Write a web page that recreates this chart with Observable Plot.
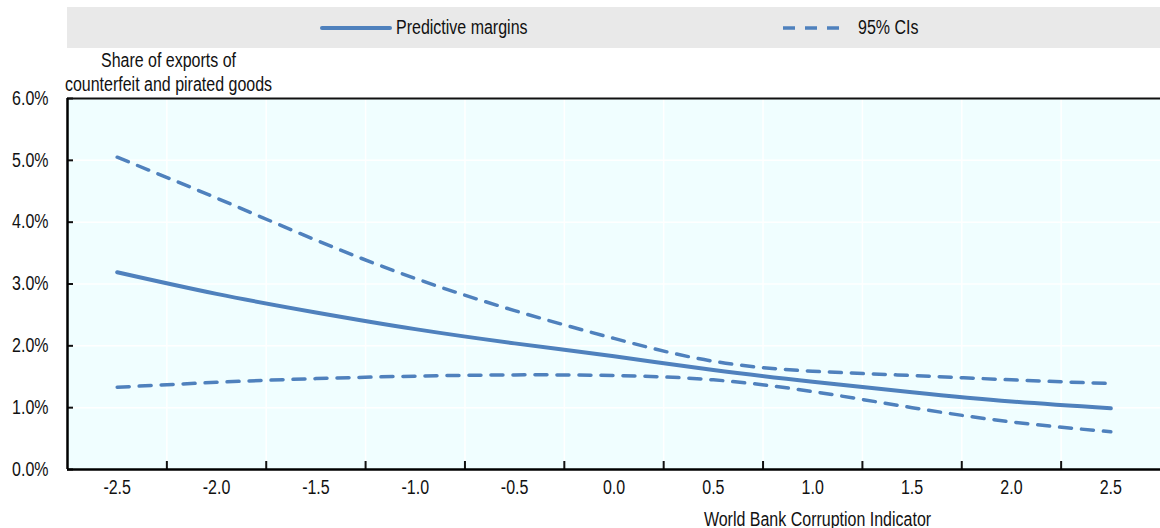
<!DOCTYPE html>
<html>
<head>
<meta charset="utf-8">
<script src="https://cdn.jsdelivr.net/npm/d3@7"></script>
<script src="https://cdn.jsdelivr.net/npm/@observablehq/plot@0.6"></script>
<style>
  body { margin: 0; background: #fff; font-family: "Liberation Sans", Arial, sans-serif; color: #000; }
  #legend { position: relative; margin: 7px 0 0 67px; width: 1093px; height: 41px; background: #e9e9e9; }
  .sw { position: absolute; top: 14px; }
  .lt { position: absolute; top: 0; line-height: 41px; font-size: 19.5px; white-space: nowrap; transform: scaleX(0.82); transform-origin: 0 50%; color: #111; }
  #chart svg { display: block; }
</style>
</head>
<body>
<div id="legend"></div>
<div id="chart"></div>
<script>
// ---- data ----
const xValues  = [-2.5, -2.0, -1.5, -1.0, -0.5, 0.0, 0.5, 1.0, 1.5, 2.0, 2.5];
const margins  = [3.19, 2.84, 2.54, 2.27, 2.04, 1.83, 1.61, 1.42, 1.25, 1.10, 0.99];
const ciUpper  = [5.05, 4.39, 3.71, 3.09, 2.57, 2.12, 1.75, 1.59, 1.52, 1.45, 1.39];
const ciLower  = [1.33, 1.41, 1.47, 1.51, 1.53, 1.52, 1.45, 1.26, 1.00, 0.77, 0.61];
const xTicks   = [-2.5, -2.0, -1.5, -1.0, -0.5, 0.0, 0.5, 1.0, 1.5, 2.0, 2.5];
const xBounds  = [-2.25, -1.75, -1.25, -0.75, -0.25, 0.25, 0.75, 1.25, 1.75, 2.25];
const yTicks   = [0, 1, 2, 3, 4, 5, 6];
const seriesNames = ["Predictive margins", "95% CIs"];
const yTitle = "Share of exports of\ncounterfeit and pirated goods";
const xTitle = "World Bank Corruption Indicator";

const blue = "#4F81BD";
const font = '"Liberation Sans", Arial, sans-serif';
const narrow = 0.82; // horizontal condensing to mimic a narrow typeface

const rows = (ys) => xValues.map((x, i) => ({x, y: ys[i]}));

// ---- legend ----
const legend = document.getElementById("legend");
legend.innerHTML = `
  <svg class="sw" style="left:253px" width="72" height="14"><line x1="2" y1="7" x2="70" y2="7" stroke="${blue}" stroke-width="4" stroke-linecap="round"/></svg>
  <div class="lt" style="left:329px">${seriesNames[0]}</div>
  <svg class="sw" style="left:714px" width="60" height="14"><line x1="2" y1="7" x2="58" y2="7" stroke="${blue}" stroke-width="3.5" stroke-dasharray="12,10" stroke-linecap="butt"/></svg>
  <div class="lt" style="left:791px">${seriesNames[1]}</div>`;

// ---- chart ----
const chart = Plot.plot({
  width: 1160,
  height: 480,
  marginTop: 50,
  marginBottom: 59,
  marginLeft: 67,
  marginRight: 0,
  style: {fontFamily: font, fontSize: "19.5px", color: "#111", background: "transparent", overflow: "visible"},
  x: {domain: [-2.75, 2.75], axis: null},
  y: {domain: [0, 6], axis: null},
  marks: [
    Plot.frame({fill: "#f0feff", stroke: null}),
    Plot.gridX(xBounds, {stroke: "#fff", strokeOpacity: 1, strokeWidth: 1.5}),
    Plot.gridY(yTicks.slice(1, 6), {stroke: "#fff", strokeOpacity: 1, strokeWidth: 1.5}),
    Plot.line(rows(ciUpper), {x: "x", y: "y", stroke: blue, strokeWidth: 3.5, strokeDasharray: "12,10", curve: "natural"}),
    Plot.line(rows(ciLower), {x: "x", y: "y", stroke: blue, strokeWidth: 3.5, strokeDasharray: "12,10", curve: "natural"}),
    Plot.line(rows(margins), {x: "x", y: "y", stroke: blue, strokeWidth: 4, strokeLinecap: "round", curve: "natural"}),
    Plot.axisX(xBounds, {tickSize: -8, strokeWidth: 2, tickFormat: () => "", label: null}),
    Plot.axisX(xTicks, {tickSize: 0, tickPadding: 11, tickFormat: d => d.toFixed(1), fill: "#111", label: null}),
    Plot.axisY(yTicks, {tickSize: -6, strokeWidth: 2, tickFormat: () => "", label: null}),
    Plot.axisY(yTicks, {tickSize: 0, tickPadding: 19, tickFormat: d => d.toFixed(1) + "%", fill: "#111", label: null}),
    Plot.ruleY([6], {stroke: "#111", strokeWidth: 2}),
    Plot.ruleX([-2.75], {stroke: "#000", strokeWidth: 2.5}),
    Plot.ruleY([0], {stroke: "#000", strokeWidth: 2.5}),
    Plot.text([yTitle], {frameAnchor: "top-left", dx: 101, dy: -8, textAnchor: "middle", lineAnchor: "bottom", lineHeight: 1.2, fill: "#111"}),
    Plot.text([xTitle], {frameAnchor: "bottom-left", dx: 750, dy: 56, textAnchor: "middle", lineAnchor: "bottom", fill: "#111"})
  ]
});

// condense every label horizontally around its own anchor point
chart.querySelectorAll("text").forEach(t => {
  const tr = t.getAttribute("transform");
  const x = +(t.getAttribute("x") || 0), y = +(t.getAttribute("y") || 0);
  if (x || y) {
    t.setAttribute("transform", `${tr || ""} translate(${x},${y}) scale(${narrow},1) translate(${-x},${-y})`);
  } else {
    t.setAttribute("transform", `${tr || ""} scale(${narrow},1)`);
  }
});
document.getElementById("chart").appendChild(chart);
</script>
</body>
</html>
